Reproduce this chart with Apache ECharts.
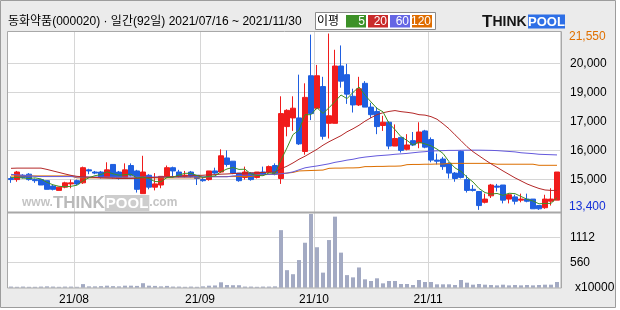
<!DOCTYPE html>
<html><head><meta charset="utf-8">
<script src="https://cdn.jsdelivr.net/npm/echarts@6/dist/echarts.min.js"></script>
<style>html,body{margin:0;padding:0;background:#fff}#c{width:620px;height:310px}</style>
</head><body><div id="c"></div>
<script>
const titleText = '동화약품(000020) · 일간(92일) 2021/07/16 ~ 2021/11/30';
const dates = ['21/07/16','21/07/19','21/07/20','21/07/21','21/07/22','21/07/23','21/07/26','21/07/27','21/07/28','21/07/29','21/07/30',
'21/08/02','21/08/03','21/08/04','21/08/05','21/08/06','21/08/09','21/08/10','21/08/11','21/08/12','21/08/13','21/08/17','21/08/18','21/08/19','21/08/20','21/08/23','21/08/24','21/08/25','21/08/26','21/08/27','21/08/30','21/08/31',
'21/09/01','21/09/02','21/09/03','21/09/06','21/09/07','21/09/08','21/09/09','21/09/10','21/09/13','21/09/14','21/09/15','21/09/16','21/09/17','21/09/23','21/09/24','21/09/27','21/09/28','21/09/29','21/09/30',
'21/10/01','21/10/05','21/10/06','21/10/07','21/10/08','21/10/12','21/10/13','21/10/14','21/10/15','21/10/18','21/10/19','21/10/20','21/10/21','21/10/22','21/10/25','21/10/26','21/10/27','21/10/28','21/10/29',
'21/11/01','21/11/02','21/11/03','21/11/04','21/11/05','21/11/08','21/11/09','21/11/10','21/11/11','21/11/12','21/11/15','21/11/16','21/11/17','21/11/18','21/11/19','21/11/22','21/11/23','21/11/24','21/11/25','21/11/26','21/11/29','21/11/30'];
// [open, close, low, high]
const ohlc = [
[14850,14800,14650,14950],[14800,15150,14700,15200],[15000,14900,14850,15050],[15050,14800,14750,15100],[14800,14750,14650,14850],
[14800,14550,14550,14800],[14750,14350,14350,14750],[14500,14350,14300,14550],[14300,14450,14300,14450],[14450,14650,14400,14700],
[14600,14650,14400,14800],[14750,14600,14550,14800],[14650,15350,14600,15400],[15250,15200,15050,15300],[15150,15100,15050,15200],
[15150,14900,14850,15200],[14900,15250,14900,15600],[15500,14900,14850,15500],[15150,14850,14800,15200],[14900,15250,14850,15550],
[15450,15000,14950,15550],[15200,14350,14200,15250],[14150,15150,14150,15900],[15000,14450,14350,15050],[14450,14600,14300,15100],
[14550,14950,14400,14950],[14950,15350,14900,15450],[15350,15200,14900,15400],[15150,14950,14900,15250],[14950,15000,14900,15200],
[15150,14950,14900,15200],[15000,14850,14550,15000],[14800,14750,14700,14900],[14800,15200,14750,15200],[15200,15100,15050,15350],
[15150,15900,15100,16200],[15800,15500,15400,16150],[15650,15100,15050,15650],[15100,14750,14700,15100],[14900,15150,14800,15400],
[15100,14800,14750,15150],[14900,15150,14850,15150],[15150,15050,15000,15400],[15150,15400,15100,15450],[15450,15050,15000,15550],
[14850,17850,14600,18650],[17250,18000,16800,18050],[17650,18100,17050,18650],[17650,16450,16400,19650],[16100,18600,15950,19250],
[19600,17850,17550,21500],[18100,19600,18050,20100],[19100,16800,16650,19550],[17400,17750,16700,21550],[17400,20050,17400,20800],
[20050,19350,19050,21000],[19650,18750,18300,20150],[18650,18250,17900,19000],[18250,19000,18200,19550],[19250,18150,18150,19350],
[18150,17800,17650,18350],[17950,17250,16900,18150],[17300,17450,17050,17750],[17450,16350,16200,17500],[16350,16700,16350,17350],
[16750,16150,16050,16750],[16200,16400,16150,16900],[16600,16400,16350,17000],[16500,17000,16250,17450],[17050,16300,16250,17100],
[16650,15700,15600,16750],[15700,15650,15500,16000],[15750,15400,15250,15850],[15550,15100,14850,15600],[15100,14850,14700,15150],
[16100,14900,14850,16150],[14800,14300,14200,15000],[14350,14300,14250,14550],[14250,13600,13400,14250],[13750,13900,13700,14150],
[14050,14550,13950,14600],[14500,14450,14250,14600],[14550,13850,13700,14550],[13900,14100,13700,14150],[14000,13800,13650,14100],
[13850,13900,13750,14150],[13900,13800,13750,14150],[13900,13450,13450,13900],[13600,13450,13400,13600],[13500,13900,13450,14100],
[13800,13900,13600,14400],[13850,15150,13850,15150]];
const ma5 = [14900,14900,14870,14850,14880,14830,14670,14560,14490,14470,14490,14540,14740,14890,14980,15030,15160,15070,15000,15030,
15050,14870,14920,14840,14710,14700,14900,14910,15010,15090,15090,14990,14900,14950,14970,15160,15290,15360,15270,15280,
15060,14990,14980,15110,15090,15700,16270,16880,17090,17800,17800,18120,17860,18120,18410,18710,18540,18830,19080,18700,
18390,18090,17930,17400,17110,16780,16610,16400,16530,16450,16360,16210,16010,15630,15340,15180,14910,14690,14390,14200,
14130,14160,14070,14170,14150,14020,13890,13810,13680,13700,13700,13970];
const ma20 = [15320,15330,15330,15330,15330,15330,15270,15200,15130,15060,14995,14950,14930,14910,14900,14880,14870,14860,14850,14850,
14850,14860,14880,14890,14900,14920,14930,14940,14950,14960,14970,14990,15000,15020,15030,15050,15060,15080,15090,15100,
15110,15120,15130,15140,15150,15300,15420,15570,15740,15880,16040,16200,16390,16550,16690,16830,17010,17150,17310,17500,
17660,17800,17890,17950,17990,17940,17910,17870,17800,17780,17710,17590,17380,17150,16870,16600,16320,16090,15900,15710,
15530,15370,15200,15040,14880,14740,14600,14490,14390,14320,14300,14300];
const ma60 = [15040,15020,15000,14970,14950,14940,14940,14940,14940,14940,14940,14920,14920,14920,14920,14920,14920,14920,14920,14920,
14920,14920,14920,14920,14920,14920,14920,14920,14920,14920,14920,14930,14930,14930,14930,14930,14930,14970,14990,15000,
15010,15020,15030,15040,15050,15070,15100,15157,15250,15343,15390,15430,15480,15530,15598,15644,15700,15740,15800,15840,
15870,15900,15920,15940,15970,15990,16010,16040,16070,16090,16120,16130,16140,16150,16150,16155,16160,16160,16160,16155,
16150,16140,16120,16100,16080,16040,16020,16000,15970,15960,15950,15940];
const ma120 = [14970,14970,14970,14970,14970,14970,14970,14970,14970,14970,14970,14880,14880,14880,14880,14880,14880,14880,14880,14880,
14880,14880,14880,14880,14880,14880,14880,14880,14880,14880,14880,14880,14880,14940,14940,14940,14940,14940,14940,14940,
14940,15000,15020,15040,15060,15080,15100,15130,15200,15210,15220,15230,15240,15320,15330,15330,15340,15340,15350,15400,
15400,15410,15410,15420,15420,15430,15490,15500,15500,15510,15510,15520,15520,15550,15550,15550,15550,15550,15550,15550,
15550,15510,15510,15510,15510,15510,15510,15510,15460,15460,15460,15460];
const volume = [25,20,25,20,20,25,30,25,20,25,25,20,80,30,30,35,45,35,30,45,
45,40,100,45,40,30,40,25,25,20,25,20,30,45,50,120,60,55,55,25,
25,20,25,25,30,1280,390,300,615,1000,1640,900,335,1060,1580,780,280,230,450,186,
149,209,97,149,149,82,82,60,171,127,127,75,75,75,60,171,112,67,82,67,
60,52,67,52,60,52,60,52,60,67,67,127];
const monthLabels = ['21/08','21/09','21/10','21/11'];
const priceTickLabels = ['15,000','16,000','17,000','19,000','20,000'];
const volTickLabels = ['560','1112'];
const maPeriods = ['5','20','60','120'];

const P_MIN = 13450, P_INT = 1345, P_MAX = P_MIN + 6 * P_INT;
const V_INT = 556, V_MAX = 3 * V_INT;
const maColors = ['#3f8f24','#b42828','#6459dc','#dc6e00'];
const boxColors = ['#3d9128','#c92a2a','#6566e4','#df6d00'];
const FONT = '"Liberation Sans", "Noto Sans CJK KR", sans-serif';
const isMonthStart = (i) => i > 0 && monthLabels.indexOf(dates[i].slice(0,5)) >= 0 && dates[i].slice(0,5) !== dates[i-1].slice(0,5);
const fmt = (v) => v.toLocaleString('en-US');
const maxHigh = Math.max(...ohlc.map(d => d[3]));
const minLow = Math.min(...ohlc.map(d => d[2]));

const chart = echarts.init(document.getElementById('c'), null, {renderer: 'canvas', width: 620, height: 310});
const legendEls = [];
maPeriods.forEach((p, k) => {
  legendEls.push({type:'rect', shape:{x:346 + 22*k, y:15, width:20, height:12.5}, style:{fill: boxColors[k]}, z:20});
  legendEls.push({type:'text', x:365 + 22*k, y:21.5, style:{text:p, fill:'#fff', font:'12px ' + FONT, align:'right', verticalAlign:'middle'}, z:21});
});
const maSeries = [ma120, ma60, ma20, ma5].map((arr, j) => ({
  type:'line', xAxisIndex:0, yAxisIndex:0, data: arr, symbol:'none', showSymbol:false, silent:true, z:4,
  lineStyle:{width:1, color: maColors[3-j]}, itemStyle:{color: maColors[3-j]}
}));

chart.setOption({
  animation: false,
  backgroundColor: '#ffffff',
  grid: [
    {left: 8, top: 34.2, width: 552, height: 174.6},
    {left: 8, top: 212.7, width: 552, height: 75},
    {left: 8, top: 31, width: 552, height: 181.7}
  ],
  xAxis: [
    {type:'category', gridIndex:0, data: dates, boundaryGap:true, axisLine:{show:false}, axisTick:{show:false}, axisLabel:{show:false}, splitLine:{show:false}},
    {type:'category', gridIndex:1, data: dates, boundaryGap:true, axisLine:{show:false}, axisTick:{show:false},
      axisLabel:{show:true, interval:(i) => isMonthStart(i), formatter:(v) => v.slice(0,5), margin:6, color:'#000', fontSize:12, fontFamily:FONT, padding:[0,6,0,0]},
      splitLine:{show:true, interval:(i) => isMonthStart(i), lineStyle:{color:'#d6d6d6', width:1}}},
    {type:'category', gridIndex:2, data: dates, boundaryGap:true, axisLine:{show:false}, axisTick:{show:false}, axisLabel:{show:false},
      splitLine:{show:true, interval:(i) => isMonthStart(i), lineStyle:{color:'#d6d6d6', width:1}}}
  ],
  yAxis: [
    {type:'value', gridIndex:0, min:P_MIN, max:P_MAX, interval:P_INT, position:'right', axisLine:{show:false}, axisTick:{show:false},
      splitLine:{show:true, showMinLine:false, showMaxLine:false, lineStyle:{color:'#d6d6d6', width:1}},
      axisLabel:{show:true, showMinLabel:false, showMaxLabel:false, align:'left', margin:10, color:'#000', fontSize:12, fontFamily:FONT,
        formatter:(v) => { const k = Math.round((v - P_MIN)/P_INT); return priceTickLabels[k-1] || ''; }}},
    {type:'value', gridIndex:1, min:0, max:V_MAX, interval:V_INT, position:'right', axisLine:{show:false}, axisTick:{show:false},
      splitLine:{show:true, showMinLine:false, showMaxLine:false, lineStyle:{color:'#d6d6d6', width:1}},
      axisLabel:{show:true, showMaxLabel:false, align:'left', margin:10, color:'#000', fontSize:12, fontFamily:FONT,
        formatter:(v) => { const k = Math.round(v / V_INT); if (k === 0) return '{u|x10000}'; return volTickLabels[k-1] || ''; },
        rich:{u:{fontSize:12, fontFamily:FONT, color:'#000', padding:[0,0,0,5]}}}},
    {type:'value', gridIndex:2, min:0, max:1, show:false}
  ],
  graphic: [
    {type:'rect', shape:{x:0.5, y:0.5, width:615, height:307}, style:{fill:'#ebebeb', stroke:'#9c9c9c', lineWidth:1}, z:-30, silent:true},
    {type:'rect', shape:{x:8, y:31, width:554, height:257.3}, style:{fill:'#ffffff'}, z:-20, silent:true},
    {type:'text', x:22, y:203, z:-10, silent:true, style:{text:'{a|www.}{b|THINK}{c|POOL}{a|.com}', verticalAlign:'middle',
      rich:{a:{fontSize:12, fontWeight:'bold', fontFamily:FONT, fill:'#c4c4c4'}, b:{fontSize:17, fontWeight:'bold', fontFamily:FONT, fill:'#bababa'},
            c:{fontSize:15, fontWeight:'bold', fontFamily:FONT, fill:'#ffffff', backgroundColor:'#cdcdcd', padding:[1,1,0,1]}}}},
    {type:'rect', shape:{x:7.5, y:31.5, width:554, height:256.5}, style:{fill:null, stroke:'#a8a8a8', lineWidth:1}, z:50, silent:true},
    {type:'line', shape:{x1:8, y1:212.5, x2:562, y2:212.5}, style:{stroke:'#a8a8a8', lineWidth:2}, z:50, silent:true},
    {type:'text', x:8, y:22, style:{text:titleText, fill:'#000', font:'12px ' + FONT, verticalAlign:'middle'}, z:20},
    {type:'rect', shape:{x:315.5, y:12.5, width:120, height:17}, style:{fill:'#fff', stroke:'#8a8a8a', lineWidth:1}, z:19},
    {type:'text', x:317, y:21.5, style:{text:'이평', fill:'#000', font:'12px ' + FONT, verticalAlign:'middle'}, z:20},
    ...legendEls,
    {type:'text', x:482, y:22, style:{text:'{t|T}{h|HINK}', verticalAlign:'middle',
      rich:{t:{fontSize:17, fontWeight:'bold', fontFamily:FONT, fill:'#151515'}, h:{fontSize:14, fontWeight:'bold', fontFamily:FONT, fill:'#151515'}}}, z:20},
    {type:'rect', shape:{x:528, y:14.5, width:37, height:14}, style:{fill:'#2e6fe6'}, z:20},
    {type:'text', x:546.5, y:22, style:{text:'POOL', fill:'#fff', font:'bold 13px ' + FONT, align:'center', verticalAlign:'middle'}, z:21},
    {type:'text', x:569, y:37, style:{text:fmt(maxHigh), fill:'#e07000', font:'12px ' + FONT, verticalAlign:'middle'}, z:20},
    {type:'text', x:569, y:207, style:{text:fmt(minLow), fill:'#1530d8', font:'12px ' + FONT, verticalAlign:'middle'}, z:20}
  ],
  series: [
    {type:'candlestick', xAxisIndex:0, yAxisIndex:0, data: ohlc.map(d => [d[0], d[1], d[2], d[3]]), barWidth:5, clip:false, silent:true, z:3,
      itemStyle:{color:'#f01c1c', color0:'#1f5fe0', borderColor:'#f01c1c', borderColor0:'#1f5fe0', borderWidth:1}},
    ...maSeries,
    {type:'bar', xAxisIndex:1, yAxisIndex:1, data: volume, barWidth:4, silent:true, itemStyle:{color:'#a3aac3'}}
  ]
});
</script></body></html>
